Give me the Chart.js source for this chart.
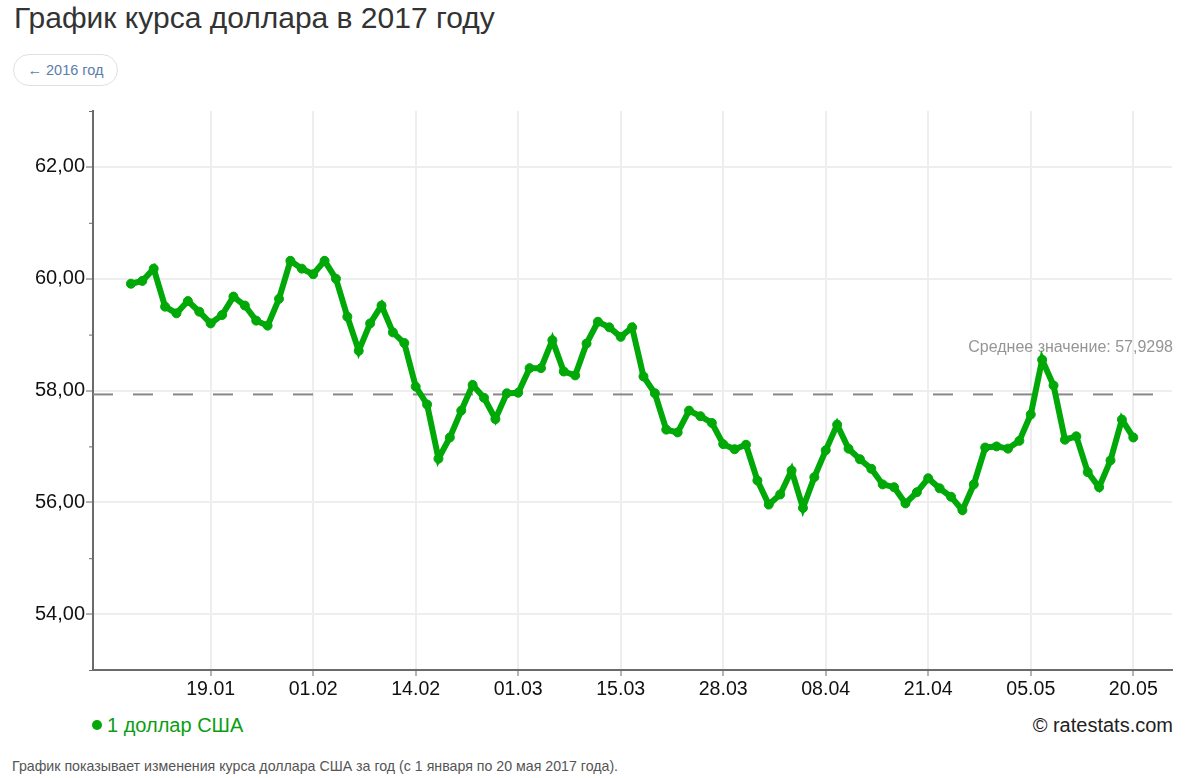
<!DOCTYPE html>
<html lang="ru">
<head>
<meta charset="utf-8">
<title>График курса доллара в 2017 году</title>
<script src="https://cdn.jsdelivr.net/npm/chart.js@4/dist/chart.umd.min.js"></script>
<style>
  html, body { margin: 0; padding: 0; background: #fff; }
  body { width: 1191px; height: 778px; position: relative; overflow: hidden; font-family: "Liberation Sans", Arial, sans-serif; }
  h1 { position: absolute; left: 14px; top: 1px; margin: 0; font-size: 30px; line-height: 34px; font-weight: normal; color: #333; white-space: nowrap; }
  .back { position: absolute; left: 13px; top: 54px; width: 103px; height: 30px; border: 1px solid #dde1e6; border-radius: 16px; text-align: center; line-height: 30px; font-size: 14.5px; color: #5a7ea8; }
  #wrap { position: absolute; left: 0; top: 98px; width: 1191px; height: 612px; }
  .legend { position: absolute; left: 92px; top: 713px; font-size: 20px; line-height: 24px; color: #0a9e12; white-space: nowrap; }
  .legend i { display: inline-block; width: 10px; height: 10px; border-radius: 50%; background: #00a808; margin-right: 5px; vertical-align: 2px; }
  .brand { position: absolute; right: 18px; top: 713px; font-size: 20px; line-height: 24px; color: #222; }
  .note { position: absolute; left: 12px; top: 758px; font-size: 14.2px; line-height: 16px; color: #555; white-space: nowrap; }
</style>
</head>
<body>
<h1>График курса доллара в 2017 году</h1>
<div class="back">← 2016 год</div>
<div id="wrap"><canvas id="rateChart"></canvas></div>
<div class="legend"><i></i>1 доллар США</div>
<div class="brand">© ratestats.com</div>
<div class="note">График показывает изменения курса доллара США за год (с 1 января по 20 мая 2017 года).</div>

<script>
// Курс по точкам
const rates = [
  59.91, 59.96, 60.18, 59.50, 59.38, 59.60, 59.41, 59.20, 59.35, 59.68,
  59.52, 59.25, 59.16, 59.64, 60.32, 60.18, 60.08, 60.32, 60.00, 59.32,
  58.71, 59.20, 59.52, 59.04, 58.85, 58.07, 57.75, 56.78, 57.16, 57.64,
  58.10, 57.87, 57.49, 57.95, 57.96, 58.40, 58.40, 58.90, 58.34, 58.27,
  58.84, 59.23, 59.13, 58.96, 59.13, 58.25, 57.95, 57.30, 57.25, 57.64,
  57.54, 57.42, 57.04, 56.95, 57.03, 56.39, 55.96, 56.14, 56.57, 55.90,
  56.45, 56.93, 57.39, 56.96, 56.77, 56.60, 56.32, 56.27, 55.98, 56.18,
  56.43, 56.25, 56.10, 55.86, 56.32, 56.98, 57.00, 56.96, 57.10, 57.57,
  58.55, 58.09, 57.12, 57.18, 56.54, 56.27, 56.75, 57.48, 57.16
];
const tickLabels = ['19.01', '01.02', '14.02', '01.03', '15.03', '28.03', '08.04', '21.04', '05.05', '20.05'];
const tickIndexes = [7, 16, 25, 34, 43, 52, 61, 70, 79, 88];
const averageValue = 57.9298;
const averageText = 'Среднее значение: 57,9298';

const GREEN = '#00a808';
const AXIS = '#6b6b6b';
const GRID = '#eeeeee';
const FONT = '"Liberation Sans", Arial, sans-serif';

// Пунктир среднего значения и короткие засечки на нечётных значениях
const averagePlugin = {
  id: 'averageLine',
  beforeDatasetsDraw(chart) {
    const { ctx, chartArea, scales } = chart;
    const y = scales.y.getPixelForValue(averageValue);
    ctx.save();
    ctx.strokeStyle = '#888888';
    ctx.lineWidth = 2;
    ctx.setLineDash([20, 20]);
    ctx.beginPath();
    ctx.moveTo(chartArea.left, y);
    ctx.lineTo(chartArea.right - 19, y);
    ctx.stroke();
    ctx.restore();

    ctx.save();
    ctx.strokeStyle = AXIS;
    ctx.lineWidth = 1;
    scales.y.ticks.forEach(t => {
      if (t.value % 2 === 0) return;
      const ty = scales.y.getPixelForValue(t.value);
      ctx.beginPath();
      ctx.moveTo(chartArea.left - 4, ty + 0.5);
      ctx.lineTo(chartArea.left, ty + 0.5);
      ctx.stroke();
    });
    ctx.restore();

    ctx.save();
    ctx.fillStyle = '#959595';
    ctx.font = '16px ' + FONT;
    ctx.textAlign = 'right';
    ctx.textBaseline = 'alphabetic';
    ctx.fillText(averageText, chartArea.right + 1, y - 42);
    ctx.restore();
  }
};

new Chart(document.getElementById('rateChart'), {
  type: 'line',
  data: {
    datasets: [{
      label: '1 доллар США',
      data: rates.map((v, i) => ({ x: i, y: v })),
      borderColor: GREEN,
      backgroundColor: GREEN,
      borderWidth: 6,
      pointRadius: 4.5,
      pointBorderWidth: 1,
      pointHoverRadius: 4.5,
      tension: 0
    }]
  },
  options: {
    responsive: true,
    maintainAspectRatio: false,
    animation: false,
    devicePixelRatio: 1,
    layout: { padding: { top: 0, right: 19, left: 0, bottom: 0 } },
    plugins: { legend: { display: false }, tooltip: { enabled: false } },
    scales: {
      x: {
        type: 'linear',
        min: -3.33,
        max: 91.4,
        afterFit(scale) { scale.height = 40; },
        afterBuildTicks(scale) { scale.ticks = tickIndexes.map(value => ({ value })); },
        border: { color: AXIS, width: 2 },
        grid: { color: GRID, lineWidth: 2, tickColor: AXIS, tickWidth: 1, tickLength: 6 },
        ticks: {
          color: '#111',
          font: { family: FONT, size: 19.6 },
          padding: 2,
          maxRotation: 0,
          autoSkip: false,
          callback: v => tickLabels[tickIndexes.indexOf(v)]
        }
      },
      y: {
        min: 53,
        max: 63,
        afterFit(scale) { scale.width = 93; },
        border: { color: AXIS, width: 2 },
        grid: {
          lineWidth: 2,
          color: c => (c.tick && c.tick.value % 2 === 0 ? GRID : 'transparent'),
          tickColor: c => (c.tick && c.tick.value % 2 === 0 ? AXIS : 'transparent'),
          tickWidth: 1,
          tickLength: 7
        },
        ticks: {
          stepSize: 1,
          color: '#111',
          font: { family: FONT, size: 20 },
          padding: 1,
          autoSkip: false,
          callback: v => (v % 2 === 0 ? v.toFixed(2).replace('.', ',') : '')
        }
      }
    }
  },
  plugins: [averagePlugin]
});
</script>
</body>
</html>
